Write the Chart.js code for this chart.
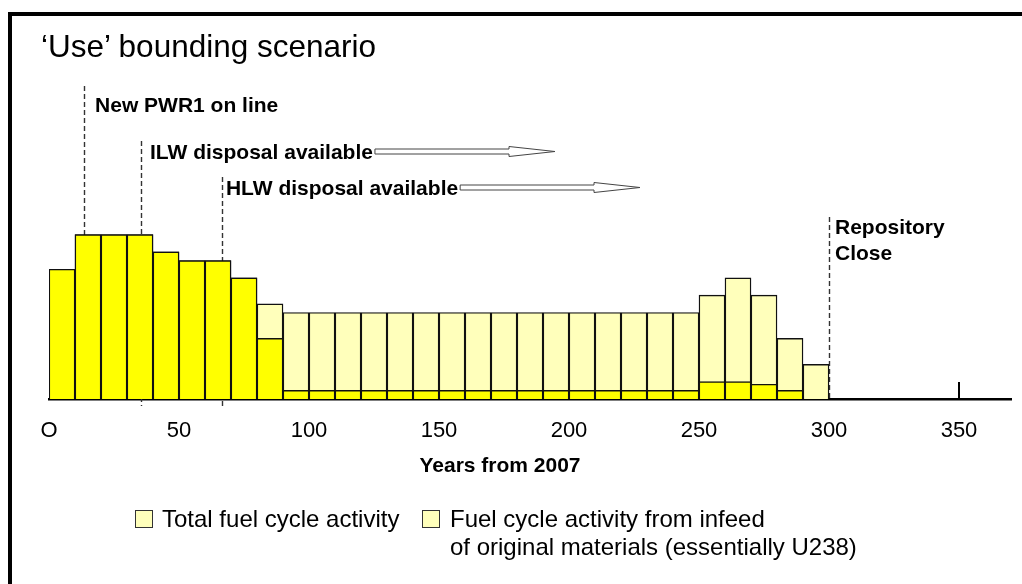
<!DOCTYPE html>
<html>
<head>
<meta charset="utf-8">
<script src="https://cdn.jsdelivr.net/npm/chart.js@4.4.1/dist/chart.umd.min.js"></script>
<style>
  html, body { margin: 0; padding: 0; background: #fff; }
  #wrap { position: relative; width: 1022px; height: 584px; overflow: hidden; font-family: Arial, "Liberation Sans", sans-serif; color: #000; }
  #frame { position: absolute; left: 8px; top: 12px; width: 1200px; height: 800px; border-left: 4px solid #000; border-top: 4px solid #000; }
  #chartBox { position: absolute; left: 0; top: 0; width: 1022px; height: 584px; }
  #title { position: absolute; left: 41px; top: 31px; font-size: 31.5px; line-height: 31px; white-space: nowrap; }
  #xTitle { position: absolute; left: 380px; width: 240px; top: 454px; font-size: 21px; line-height: 21px; font-weight: bold; text-align: center; }
  .swatch { position: absolute; width: 16px; height: 16px; border: 1px solid #333; background: #ffffbb; }
  .legText { position: absolute; font-size: 24px; line-height: 28px; white-space: nowrap; }
</style>
</head>
<body>
<div id="wrap">
  <div id="frame"></div>
  <div id="chartBox"><canvas id="fuelChart"></canvas></div>
  <div id="title">‘Use’ bounding scenario</div>
  <div id="xTitle">Years from 2007</div>
  <div class="swatch" style="left:135px; top:510px;"></div>
  <div class="legText" id="leg1" style="left:162px; top:505px;"></div>
  <div class="swatch" style="left:422px; top:510px;"></div>
  <div class="legText" id="leg2" style="left:450px; top:505px;"></div>
</div>
<script>
// decade mid-points, years from 2007
const years = [5, 15, 25, 35, 45, 55, 65, 75, 85, 95,
  105, 115, 125, 135, 145, 155, 165, 175, 185, 195,
  205, 215, 225, 235, 245, 255, 265, 275, 285, 295];

// total fuel cycle activity (relative units)
const totalActivity = [15, 19, 19, 19, 17, 16, 16, 14, 11, 10,
  10, 10, 10, 10, 10, 10, 10, 10, 10, 10,
  10, 10, 10, 10, 10, 12, 14, 12, 7, 4];

// activity from infeed of original materials
const originalActivity = [15, 19, 19, 19, 17, 16, 16, 14, 7, 1,
  1, 1, 1, 1, 1, 1, 1, 1, 1, 1,
  1, 1, 1, 1, 1, 2, 2, 1.7, 1, 0];

const xTickValues = [0, 50, 100, 150, 200, 250, 300, 350];
const xTickLabels = ["O", "50", "100", "150", "200", "250", "300", "350"];

const seriesNames = ["Total fuel cycle activity",
  ["Fuel cycle activity from infeed", "of original materials (essentially U238)"]];

const eventYears = [13.5, 35.4, 66.5, 300];
const eventLabels = [["New PWR1 on line"], ["ILW disposal available"], ["HLW disposal available"], ["Repository", "Close"]];

document.getElementById("leg1").textContent = seriesNames[0];
document.getElementById("leg2").innerHTML = seriesNames[1].join("<br>");

// where each event's dashed line and caption sit on the page
const eventStyle = [
  { top: 86, bottom: 399, dx: 11, baselines: [112] },
  { top: 141, bottom: 406, dx: 9, baselines: [159], arrowTo: 555 },
  { top: 177, bottom: 406, dx: 4, baselines: [195], arrowTo: 640 },
  { top: 217, bottom: 399, dx: 6, baselines: [234, 260] },
];

function drawArrow(ctx, x0, x1, y) {
  const hl = 46, sw = 2.5, hw = 5;
  const xh = x1 - hl;
  ctx.beginPath();
  ctx.moveTo(x0, y - sw);
  ctx.lineTo(xh, y - sw);
  ctx.lineTo(xh, y - hw);
  ctx.lineTo(x1, y);
  ctx.lineTo(xh, y + hw);
  ctx.lineTo(xh, y + sw);
  ctx.lineTo(x0, y + sw);
  ctx.closePath();
  ctx.fillStyle = "#fff";
  ctx.fill();
  ctx.strokeStyle = "#444";
  ctx.lineWidth = 1;
  ctx.stroke();
}

const eventsPlugin = {
  id: "events",
  beforeDatasetsDraw(chart) {
    const ctx = chart.ctx;
    const x = chart.scales.x;
    ctx.save();
    ctx.strokeStyle = "#333";
    ctx.lineWidth = 1.4;
    ctx.setLineDash([5, 3]);
    eventYears.forEach((yr, i) => {
      const px = Math.round(x.getPixelForValue(yr)) + 0.5;
      ctx.beginPath();
      ctx.moveTo(px, eventStyle[i].top);
      ctx.lineTo(px, eventStyle[i].bottom);
      ctx.stroke();
    });
    ctx.restore();
  },
  afterDraw(chart) {
    const ctx = chart.ctx;
    const x = chart.scales.x;
    ctx.save();
    ctx.font = "bold 21px Arial, 'Liberation Sans', sans-serif";
    ctx.fillStyle = "#000";
    ctx.textBaseline = "alphabetic";
    eventYears.forEach((yr, i) => {
      const st = eventStyle[i];
      const px = x.getPixelForValue(yr) + st.dx;
      let endX = px;
      eventLabels[i].forEach((line, j) => {
        ctx.fillStyle = "#000";
        ctx.fillText(line, px, st.baselines[j]);
        endX = Math.max(endX, px + ctx.measureText(line).width);
      });
      if (st.arrowTo) {
        drawArrow(ctx, endX + 2, st.arrowTo, st.baselines[0] - 7.5);
      }
    });
    // single upward tick at 350
    const p350 = Math.round(x.getPixelForValue(350));
    ctx.fillStyle = "#000";
    ctx.fillRect(p350 - 1, 382, 2, 17);
    ctx.restore();
  },
};

new Chart(document.getElementById("fuelChart"), {
  type: "bar",
  data: {
    datasets: [
      {
        label: seriesNames[1].join(" "),
        data: years.map((yr, i) => ({ x: yr, y: originalActivity[i] })),
        backgroundColor: "#ffff00",
        borderColor: "#111",
        borderWidth: 1.4,
      },
      {
        label: seriesNames[0],
        data: years.map((yr, i) => ({ x: yr, y: totalActivity[i] })),
        backgroundColor: "#ffffbb",
        borderColor: "#111",
        borderWidth: 1.4,
      },
    ],
  },
  options: {
    responsive: true,
    maintainAspectRatio: false,
    animation: false,
    events: [],
    grouped: false,
    barPercentage: 1,
    categoryPercentage: 1,
    layout: { padding: { left: 49, right: 11, top: 226, bottom: 145 } },
    scales: {
      x: {
        type: "linear",
        min: 0,
        max: 370,
        offset: false,
        afterBuildTicks(scale) {
          scale.ticks = xTickValues.map((v) => ({ value: v }));
        },
        afterFit(scale) {
          scale.height = 40;
        },
        grid: { display: false, drawTicks: false, offset: false },
        border: { display: true, color: "#000", width: 2.5 },
        ticks: {
          padding: 19,
          color: "#000",
          font: { family: "Arial, 'Liberation Sans', sans-serif", size: 22 },
          maxRotation: 0,
          autoSkip: false,
          callback: (value) => xTickLabels[xTickValues.indexOf(value)],
        },
      },
      y: {
        display: false,
        min: 0,
        max: 20,
      },
    },
    plugins: {
      legend: { display: false },
      tooltip: { enabled: false },
    },
  },
  plugins: [eventsPlugin],
});
</script>
</body>
</html>
